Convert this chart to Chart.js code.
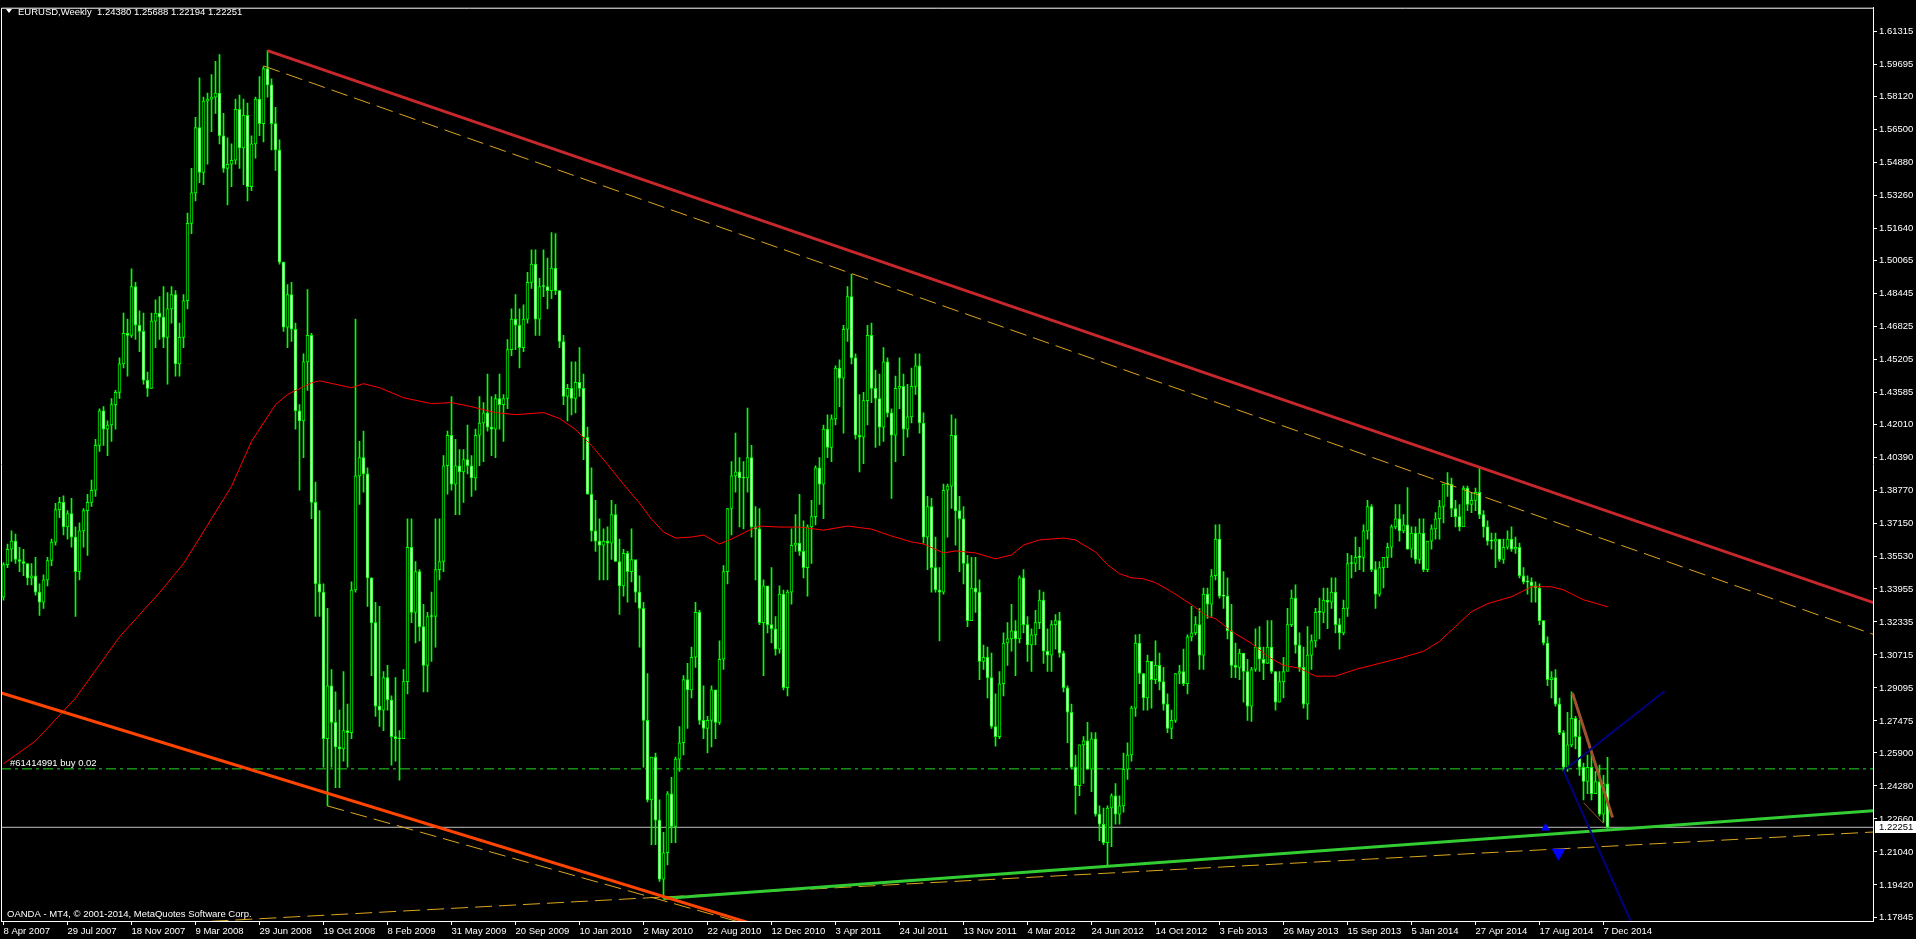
<!DOCTYPE html>
<html><head><meta charset="utf-8">
<script src="https://cdn.jsdelivr.net/npm/chart.js@4.4.1/dist/chart.umd.min.js"></script>
<style>html,body{margin:0;padding:0;background:#000;overflow:hidden}#wrap{position:relative;width:1916px;height:939px}canvas{display:block}</style>
</head><body><div id="wrap"><canvas id="c" width="1916" height="939"></canvas></div>
<script>
// ---- weekly EURUSD bars, 8 Apr 2007 .. 14 Dec 2014 (bar index 0..401) ----
const opens=[
1.3355,1.3515,1.3590,1.3630,1.3540,1.3530,1.3520,1.3450,1.3460,1.3380,
1.3330,1.3440,1.3535,1.3625,1.3785,1.3820,1.3700,1.3765,1.3650,1.3480,
1.3680,1.3780,1.3820,1.3880,1.4100,1.4270,1.4180,1.4200,1.4300,1.4360,
1.4500,1.4650,1.4640,1.4880,1.4690,1.4660,1.4420,1.4380,1.4710,1.4750,
1.4730,1.4630,1.4770,1.4840,1.4500,1.4630,1.4810,1.5190,1.5340,1.5660,
1.5440,1.5790,1.5800,1.5810,1.5830,1.5620,1.5460,1.5480,1.5500,1.5750,
1.5560,1.5720,1.5370,1.5580,1.5800,1.5680,1.5950,1.5870,1.5680,1.5550,
1.5000,1.4680,1.4840,1.4670,1.4270,1.4220,1.4510,1.4640,1.3820,1.3420,
1.3380,1.2660,1.2920,1.2740,1.2620,1.2610,1.2700,1.2690,1.3390,1.3950,
1.4040,1.3960,1.3450,1.3230,1.2820,1.2800,1.2960,1.2850,1.2670,1.2660,
1.2660,1.2940,1.3600,1.3280,1.3480,1.3210,1.3020,1.3260,1.3260,1.3490,
1.3530,1.4000,1.4150,1.3910,1.4000,1.3970,1.4030,1.4000,1.3940,1.4150,
1.4210,1.4260,1.4190,1.4180,1.4330,1.4300,1.4330,1.4570,1.4720,1.4690,
1.4580,1.4720,1.4900,1.4990,1.4720,1.4880,1.4880,1.4860,1.4970,1.4860,
1.4610,1.4340,1.4380,1.4330,1.4410,1.4380,1.4140,1.3860,1.3680,1.3630,
1.3610,1.3630,1.3620,1.3760,1.3530,1.3410,1.3570,1.3480,1.3540,1.3380,
1.3300,1.2750,1.2360,1.2570,1.2260,1.1970,1.2100,1.2390,1.2230,1.2560,
1.2640,1.2950,1.2900,1.3060,1.3280,1.2750,1.2710,1.2750,1.2900,1.2740,
1.3050,1.3480,1.3790,1.3950,1.3970,1.3940,1.3940,1.4040,1.3700,1.3690,
1.3230,1.3410,1.3220,1.3200,1.3100,1.3370,1.2910,1.3380,1.3610,1.3620,
1.3580,1.3500,1.3700,1.3750,1.3990,1.3910,1.4180,1.4090,1.4230,1.4480,
1.4430,1.4670,1.4830,1.4530,1.4150,1.4140,1.4320,1.4640,1.4380,1.4330,
1.4190,1.4510,1.4260,1.4150,1.4380,1.4390,1.4180,1.4240,1.4390,1.4490,
1.4210,1.3650,1.3800,1.3500,1.3390,1.3380,1.3880,1.3900,1.4150,1.3780,
1.3740,1.3520,1.3240,1.3400,1.3380,1.3040,1.3060,1.2960,1.2720,1.2670,
1.2930,1.3130,1.3150,1.3190,1.3150,1.3450,1.3220,1.3120,1.3170,1.3230,
1.3340,1.3090,1.3070,1.3220,1.3240,1.3080,1.2910,1.2790,1.2520,1.2430,
1.2630,1.2650,1.2510,1.2660,1.2290,1.2240,1.2150,1.2320,1.2380,1.2290,
1.2330,1.2510,1.2580,1.2810,1.3130,1.2980,1.2860,1.3040,1.2950,1.3020,
1.2940,1.2830,1.2710,1.2750,1.2980,1.2990,1.2930,1.3160,1.3180,1.3220,
1.3070,1.3370,1.3320,1.3460,1.3640,1.3360,1.3360,1.3190,1.3020,1.3010,
1.3080,1.2990,1.2820,1.3000,1.3110,1.3050,1.3030,1.3110,1.2990,1.2840,
1.2940,1.2990,1.3220,1.3350,1.3120,1.3010,1.2830,1.3070,1.3140,1.3280,
1.3280,1.3340,1.3330,1.3380,1.3220,1.3180,1.3300,1.3520,1.3520,1.3550,
1.3550,1.3680,1.3800,1.3490,1.3370,1.3500,1.3550,1.3600,1.3700,1.3740,
1.3680,1.3710,1.3590,1.3670,1.3540,1.3670,1.3490,1.3630,1.3690,1.3740,
1.3800,1.3910,1.3910,1.3790,1.3750,1.3700,1.3890,1.3810,1.3830,1.3870,
1.3760,1.3700,1.3630,1.3630,1.3640,1.3540,1.3600,1.3640,1.3590,1.3600,
1.3460,1.3430,1.3430,1.3410,1.3400,1.3240,1.3130,1.2950,1.2960,1.2830,
1.2690,1.2520,1.2630,1.2760,1.2670,1.2520,1.2450,1.2520,1.2390,1.2450,
1.2290,1.2438];
const highs=[
1.3525,1.3615,1.3680,1.3665,1.3600,1.3590,1.3520,1.3520,1.3550,1.3420,
1.3465,1.3550,1.3640,1.3815,1.3845,1.3852,1.3780,1.3840,1.3700,1.3720,
1.3790,1.3860,1.3930,1.4130,1.4280,1.4290,1.4220,1.4330,1.4370,1.4530,
1.4750,1.4720,1.4967,1.4900,1.4760,1.4750,1.4460,1.4750,1.4815,1.4830,
1.4880,1.4850,1.4880,1.4860,1.4700,1.4840,1.5240,1.5460,1.5710,1.5905,
1.5810,1.5830,1.5920,1.5985,1.6019,1.5730,1.5610,1.5580,1.5800,1.5820,
1.5800,1.5780,1.5620,1.5810,1.5910,1.5960,1.6038,1.5900,1.5760,1.5600,
1.5000,1.4890,1.4900,1.4700,1.4300,1.4550,1.4865,1.4650,1.3920,1.3780,
1.3420,1.3300,1.3000,1.2890,1.2800,1.2990,1.2830,1.3430,1.4720,1.4120,
1.4170,1.3990,1.3450,1.3330,1.3310,1.2990,1.3020,1.2870,1.2960,1.2700,
1.3000,1.3740,1.3740,1.3530,1.3490,1.3320,1.3280,1.3380,1.3740,1.3740,
1.4050,1.4170,1.4340,1.4130,1.4080,1.4080,1.4200,1.4050,1.4180,1.4340,
1.4310,1.4450,1.4340,1.4350,1.4450,1.4350,1.4620,1.4770,1.4840,1.4770,
1.4790,1.4950,1.5060,1.5060,1.4920,1.5060,1.5020,1.5145,1.5140,1.4860,
1.4640,1.4400,1.4510,1.4510,1.4580,1.4450,1.4190,1.3990,1.3830,1.3740,
1.3690,1.3700,1.3830,1.3810,1.3640,1.3590,1.3580,1.3690,1.3530,1.3460,
1.3330,1.2980,1.2570,1.2590,1.2360,1.2200,1.2400,1.2470,1.2570,1.2720,
1.2970,1.3030,1.3110,1.3330,1.3290,1.2920,1.2770,1.2920,1.2890,1.3140,
1.3510,1.3790,1.4020,1.4160,1.4040,1.4020,1.4283,1.4100,1.3800,1.3790,
1.3440,1.3390,1.3500,1.3260,1.3410,1.3390,1.3390,1.3690,1.3760,1.3860,
1.3730,1.3710,1.3830,1.4000,1.4040,1.4200,1.4250,1.4250,1.4490,1.4520,
1.4690,1.4880,1.4940,1.4550,1.4350,1.4360,1.4690,1.4700,1.4470,1.4450,
1.4580,1.4530,1.4280,1.4440,1.4530,1.4450,1.4400,1.4480,1.4550,1.4550,
1.4260,1.3850,1.3840,1.3650,1.3500,1.3910,1.3910,1.4250,1.4230,1.3850,
1.3800,1.3560,1.3550,1.3550,1.3440,1.3120,1.3110,1.3080,1.2880,1.2990,
1.3180,1.3230,1.3320,1.3240,1.3460,1.3490,1.3260,1.3200,1.3290,1.3390,
1.3380,1.3200,1.3240,1.3270,1.3280,1.3090,1.2920,1.2830,1.2580,1.2630,
1.2670,1.2740,1.2690,1.2690,1.2330,1.2320,1.2330,1.2390,1.2440,1.2380,
1.2590,1.2640,1.2820,1.3170,1.3172,1.2980,1.3070,1.3040,1.3140,1.3080,
1.3010,1.2880,1.2800,1.2980,1.3020,1.3100,1.3170,1.3310,1.3260,1.3300,
1.3400,1.3400,1.3490,1.3710,1.3711,1.3480,1.3450,1.3320,1.3130,1.3100,
1.3040,1.3050,1.3010,1.3200,1.3210,1.3110,1.3240,1.3240,1.2990,1.2990,
1.3060,1.3300,1.3390,1.3415,1.3180,1.3110,1.3210,1.3170,1.3300,1.3350,
1.3400,1.3400,1.3450,1.3450,1.3250,1.3340,1.3570,1.3560,1.3650,1.3600,
1.3710,1.3830,1.3810,1.3530,1.3530,1.3550,1.3620,1.3710,1.3810,1.3810,
1.3760,1.3893,1.3700,1.3700,1.3740,1.3740,1.3630,1.3710,1.3770,1.3830,
1.3910,1.3967,1.3940,1.3830,1.3810,1.3900,1.3900,1.3870,1.3890,1.3993,
1.3780,1.3730,1.3670,1.3670,1.3600,1.3640,1.3680,1.3700,1.3650,1.3620,
1.3500,1.3460,1.3450,1.3430,1.3420,1.3240,1.3160,1.2990,1.3000,1.2860,
1.2700,1.2790,1.2890,1.2770,1.2750,1.2540,1.2580,1.2600,1.2500,1.2530,
1.2480,1.25688];
const lows=[
1.3340,1.3500,1.3530,1.3520,1.3480,1.3460,1.3415,1.3415,1.3365,1.3265,
1.3300,1.3410,1.3510,1.3610,1.3745,1.3660,1.3640,1.3600,1.3260,1.3440,
1.3600,1.3560,1.3800,1.3850,1.4070,1.4100,1.4050,1.4120,1.4180,1.4330,
1.4480,1.4440,1.4630,1.4620,1.4560,1.4400,1.4340,1.4380,1.4580,1.4620,
1.4580,1.4400,1.4700,1.4440,1.4440,1.4580,1.4770,1.5140,1.5300,1.5390,
1.5380,1.5480,1.5640,1.5730,1.5580,1.5440,1.5280,1.5370,1.5480,1.5460,
1.5380,1.5300,1.5350,1.5510,1.5620,1.5590,1.5810,1.5550,1.5450,1.4990,
1.4660,1.4580,1.4610,1.4180,1.3880,1.4040,1.4370,1.3740,1.3260,1.3260,
1.2520,1.2330,1.2520,1.2420,1.2420,1.2550,1.2520,1.2660,1.3380,1.3810,
1.3870,1.3310,1.2970,1.2770,1.2720,1.2700,1.2800,1.2530,1.2550,1.2456,
1.2660,1.2880,1.3230,1.3130,1.3140,1.2890,1.2890,1.3040,1.3110,1.3440,
1.3480,1.3860,1.3880,1.3760,1.3760,1.3820,1.3960,1.3850,1.3880,1.4000,
1.4020,1.4170,1.4050,1.4040,1.4180,1.4120,1.4280,1.4540,1.4570,1.4480,
1.4560,1.4700,1.4870,1.4640,1.4640,1.4830,1.4770,1.4820,1.4840,1.4580,
1.4300,1.4220,1.4250,1.4260,1.4340,1.4030,1.3860,1.3630,1.3580,1.3440,
1.3440,1.3440,1.3540,1.3530,1.3270,1.3360,1.3330,1.3430,1.3330,1.3110,
1.2520,1.2350,1.2140,1.2140,1.1960,1.1876,1.2040,1.2150,1.2150,1.2500,
1.2580,1.2710,1.2860,1.3010,1.2730,1.2660,1.2590,1.2620,1.2660,1.2730,
1.3000,1.3420,1.3660,1.3870,1.3700,1.3690,1.3870,1.3650,1.3440,1.3220,
1.2970,1.3180,1.3130,1.3070,1.3080,1.2900,1.2870,1.3320,1.3580,1.3560,
1.3450,1.3360,1.3520,1.3710,1.3810,1.3740,1.4040,1.4020,1.4200,1.4290,
1.4160,1.4610,1.4500,1.4130,1.3970,1.4010,1.4200,1.4310,1.4090,1.4100,
1.4120,1.4240,1.3840,1.4020,1.4280,1.4050,1.4140,1.4210,1.4350,1.4160,
1.3620,1.3490,1.3380,1.3380,1.3140,1.3370,1.3650,1.3790,1.3610,1.3480,
1.3420,1.3210,1.3240,1.3280,1.2950,1.3000,1.2860,1.2710,1.2624,1.2660,
1.2870,1.3020,1.3090,1.2970,1.3130,1.3180,1.3040,1.2990,1.3120,1.3200,
1.3030,1.2990,1.2990,1.3100,1.3060,1.2890,1.2640,1.2510,1.2290,1.2380,
1.2440,1.2510,1.2400,1.2280,1.2160,1.2140,1.2042,1.2130,1.2240,1.2240,
1.2300,1.2460,1.2550,1.2770,1.2930,1.2800,1.2800,1.2810,1.2930,1.2900,
1.2800,1.2690,1.2660,1.2740,1.2930,1.2920,1.2880,1.3140,1.3170,1.3000,
1.3000,1.3250,1.3260,1.3440,1.3350,1.3300,1.3150,1.2960,1.2960,1.2950,
1.2840,1.2750,1.2745,1.2990,1.2990,1.2950,1.3030,1.2980,1.2800,1.2840,
1.2860,1.3000,1.3210,1.3080,1.2990,1.2810,1.2755,1.3000,1.3110,1.3150,
1.3230,1.3200,1.3300,1.3180,1.3100,1.3170,1.3260,1.3450,1.3480,1.3490,
1.3480,1.3640,1.3480,1.3300,1.3360,1.3400,1.3500,1.3550,1.3690,1.3630,
1.3670,1.3590,1.3550,1.3520,1.3520,1.3480,1.3480,1.3590,1.3640,1.3640,
1.3720,1.3850,1.3750,1.3700,1.3680,1.3710,1.3780,1.3770,1.3780,1.3740,
1.3650,1.3610,1.3590,1.3500,1.3530,1.3520,1.3590,1.3580,1.3570,1.3450,
1.3420,1.3370,1.3330,1.3330,1.3220,1.3120,1.2920,1.2860,1.2820,1.2680,
1.2500,1.2500,1.2620,1.2610,1.2480,1.2360,1.2390,1.2360,1.2410,1.2280,
1.2250,1.22194];
const closes=[
1.3515,1.3590,1.3630,1.3540,1.3530,1.3520,1.3450,1.3460,1.3380,1.3330,
1.3440,1.3535,1.3625,1.3785,1.3820,1.3700,1.3765,1.3650,1.3480,1.3680,
1.3780,1.3820,1.3880,1.4100,1.4270,1.4180,1.4200,1.4300,1.4360,1.4500,
1.4650,1.4640,1.4880,1.4690,1.4660,1.4420,1.4380,1.4710,1.4750,1.4730,
1.4630,1.4770,1.4840,1.4500,1.4630,1.4810,1.5190,1.5340,1.5660,1.5440,
1.5790,1.5800,1.5810,1.5830,1.5620,1.5460,1.5480,1.5500,1.5750,1.5560,
1.5720,1.5370,1.5580,1.5800,1.5680,1.5950,1.5870,1.5680,1.5550,1.5000,
1.4680,1.4840,1.4670,1.4270,1.4220,1.4510,1.4640,1.3820,1.3420,1.3380,
1.2660,1.2920,1.2740,1.2620,1.2610,1.2700,1.2690,1.3390,1.3950,1.4040,
1.3960,1.3450,1.3230,1.2820,1.2800,1.2960,1.2850,1.2670,1.2660,1.2660,
1.2940,1.3600,1.3280,1.3480,1.3210,1.3020,1.3260,1.3260,1.3490,1.3530,
1.4000,1.4150,1.3910,1.4000,1.3970,1.4030,1.4000,1.3940,1.4150,1.4210,
1.4260,1.4190,1.4180,1.4330,1.4300,1.4330,1.4570,1.4720,1.4690,1.4580,
1.4720,1.4900,1.4990,1.4720,1.4880,1.4880,1.4860,1.4970,1.4860,1.4610,
1.4340,1.4380,1.4330,1.4410,1.4380,1.4140,1.3860,1.3680,1.3630,1.3610,
1.3630,1.3620,1.3760,1.3530,1.3410,1.3570,1.3480,1.3540,1.3380,1.3300,
1.2750,1.2360,1.2570,1.2260,1.1970,1.2100,1.2390,1.2230,1.2560,1.2640,
1.2950,1.2900,1.3060,1.3280,1.2750,1.2710,1.2750,1.2900,1.2740,1.3050,
1.3480,1.3790,1.3950,1.3970,1.3940,1.3940,1.4040,1.3700,1.3690,1.3230,
1.3410,1.3220,1.3200,1.3100,1.3370,1.2910,1.3380,1.3610,1.3620,1.3580,
1.3500,1.3700,1.3750,1.3990,1.3910,1.4180,1.4090,1.4230,1.4480,1.4430,
1.4670,1.4830,1.4530,1.4150,1.4140,1.4320,1.4640,1.4380,1.4330,1.4190,
1.4510,1.4260,1.4150,1.4380,1.4390,1.4180,1.4240,1.4390,1.4490,1.4210,
1.3650,1.3800,1.3500,1.3390,1.3380,1.3880,1.3900,1.4150,1.3780,1.3740,
1.3520,1.3240,1.3400,1.3380,1.3040,1.3060,1.2960,1.2720,1.2670,1.2930,
1.3130,1.3150,1.3190,1.3150,1.3450,1.3220,1.3120,1.3170,1.3230,1.3340,
1.3090,1.3070,1.3220,1.3240,1.3080,1.2910,1.2790,1.2520,1.2430,1.2630,
1.2650,1.2510,1.2660,1.2290,1.2240,1.2150,1.2320,1.2380,1.2290,1.2330,
1.2510,1.2580,1.2810,1.3130,1.2980,1.2860,1.3040,1.2950,1.3020,1.2940,
1.2830,1.2710,1.2750,1.2980,1.2990,1.2930,1.3160,1.3180,1.3220,1.3070,
1.3370,1.3320,1.3460,1.3640,1.3360,1.3360,1.3190,1.3020,1.3010,1.3080,
1.2990,1.2820,1.3000,1.3110,1.3050,1.3030,1.3110,1.2990,1.2840,1.2940,
1.2990,1.3220,1.3350,1.3120,1.3010,1.2830,1.3070,1.3140,1.3280,1.3280,
1.3340,1.3330,1.3380,1.3220,1.3180,1.3300,1.3520,1.3520,1.3550,1.3550,
1.3680,1.3800,1.3490,1.3370,1.3500,1.3550,1.3600,1.3700,1.3740,1.3680,
1.3710,1.3590,1.3670,1.3540,1.3670,1.3490,1.3630,1.3690,1.3740,1.3800,
1.3910,1.3910,1.3790,1.3750,1.3700,1.3890,1.3810,1.3830,1.3870,1.3760,
1.3700,1.3630,1.3630,1.3640,1.3540,1.3600,1.3640,1.3590,1.3600,1.3460,
1.3430,1.3430,1.3410,1.3400,1.3240,1.3130,1.2950,1.2960,1.2830,1.2690,
1.2520,1.2630,1.2760,1.2670,1.2520,1.2450,1.2520,1.2390,1.2450,1.2290,
1.2440,1.22251];

// ---- moving average (red) read at sample bars ----
const maBars=[0,8,18,29,39,45,49,57,62,68,71,77,79,87,90,94,100,107,112,117,123,128,135,139,143,147,151,155,159,162,165,168,172,175,179,182,187,189,194,199,205,211,217,222,227,230,235,238,243,248,252,255,259,265,268,271,273,276,279,282,285,288,292,297,301,303,307,312,316,320,324,328,333,338,342,349,355,359,363,367,371,377,382,387,390,395,401];
const maValues=[1.2537,1.2649,1.2859,1.3160,1.3377,1.3520,1.3645,1.3899,1.4120,1.4300,1.4350,1.4407,1.4417,1.4383,1.4403,1.4383,1.4334,1.4305,1.4310,1.4290,1.4261,1.4251,1.4261,1.4232,1.4178,1.4100,1.4007,1.3909,1.3817,1.3738,1.3675,1.3645,1.3650,1.3660,1.3616,1.3640,1.3689,1.3704,1.3699,1.3699,1.3684,1.3704,1.3689,1.3655,1.3626,1.3616,1.3572,1.3582,1.3572,1.3543,1.3562,1.3611,1.3636,1.3645,1.3636,1.3600,1.3577,1.3514,1.3470,1.3450,1.3445,1.3426,1.3382,1.3318,1.3260,1.3250,1.3187,1.3128,1.3065,1.3020,1.3006,1.2967,1.2967,1.3000,1.3020,1.3055,1.3089,1.3138,1.3211,1.3284,1.3323,1.3357,1.3406,1.3406,1.3391,1.3342,1.3308];

// ---- drawn objects (bar index, price) ----
const resistBars=[66,467.5],      resistPrices=[1.6038,1.3328];
const upperDashBars=[65,467.5],   upperDashPrices=[1.5963,1.3172];
const orangeBars=[-0.75,200],     orangePrices=[1.2886,1.1674];
const orangeDashBars=[81,200],    orangeDashPrices=[1.2330,1.1671];
const supportBars=[165,467.5],    supportPrices=[1.1876,1.2307];
const lowDashBars=[40,467.5],     lowDashPrices=[1.1751,1.2202];
const blueUpBars=[390,415.25],    blueUpPrices=[1.2503,1.2893];
const blueDownBars=[390,409],     blueDownPrices=[1.2503,1.1668];
const brownBars=[392.25,402.25],  brownPrices=[1.2884,1.2273];
const brownThinBars=[395,400],    brownThinPrices=[1.2346,1.2244];
const arrowDownBars=[388.75],     arrowDownPrices=[1.2100];
const arrowUpBars=[385.5],        arrowUpPrices=[1.2222];
const orderPrice=1.2512, bidPrice=1.22251;

// ---- axis labels ----
const dateLabelBars=[0,16,32,48,64,80,96,112,128,144,160,176,192,208,224,240,256,272,288,304,320,336,352,368,384,400];
const dateLabels=['8 Apr 2007','29 Jul 2007','18 Nov 2007','9 Mar 2008','29 Jun 2008','19 Oct 2008','8 Feb 2009','31 May 2009','20 Sep 2009','10 Jan 2010','2 May 2010','22 Aug 2010','12 Dec 2010','3 Apr 2011','24 Jul 2011','13 Nov 2011','4 Mar 2012','24 Jun 2012','14 Oct 2012','3 Feb 2013','26 May 2013','15 Sep 2013','5 Jan 2014','27 Apr 2014','17 Aug 2014','7 Dec 2014'];
const priceTicks=[1.61315,1.59695,1.58120,1.56500,1.54880,1.53260,1.51640,1.50065,1.48445,1.46825,1.45205,1.43585,1.42010,1.40390,1.38770,1.37150,1.35530,1.33955,1.32335,1.30715,1.29095,1.27475,1.25900,1.24280,1.22660,1.21040,1.19420,1.17845];
const headerText='EURUSD,Weekly  1.24380 1.25688 1.22194 1.22251';
const orderText='#61414991 buy 0.02';
const copyrightText='OANDA - MT4, \u00a9 2001-2014, MetaQuotes Software Corp.';

// ---- build datasets ----
const pts=(bx,py)=>bx.map((b,i)=>({x:b,y:py[i]}));
const wickData=opens.map((o,i)=>({x:i,y:[lows[i],highs[i]]}));
const bodyData=opens.map((o,i)=>({x:i,y:[Math.min(o,closes[i]),Math.max(o,closes[i])]}));
const bodyFill=opens.map((o,i)=>closes[i]>o?'#000000':'#ffffff');
const line=(data,color,width,dash,order)=>({type:'line',data,borderColor:color,borderWidth:width,borderDash:dash||[],pointRadius:0,fill:false,tension:0,order});
const FONT='"Liberation Sans", Arial, sans-serif';

const overlay={
  id:'overlay',
  afterDraw(chart){
    const {ctx,chartArea:a,scales:{y}}=chart;
    ctx.save();
    ctx.strokeStyle='#ffffff';ctx.lineWidth=1;
    ctx.beginPath();ctx.moveTo(a.left+0.5,a.bottom);ctx.lineTo(a.left+0.5,a.top+0.5);ctx.lineTo(a.right+0.5,a.top+0.5);ctx.stroke();
    ctx.fillStyle='#ffffff';
    ctx.beginPath();ctx.moveTo(6,9);ctx.lineTo(12,9);ctx.lineTo(9,13);ctx.closePath();ctx.fill();
    ctx.font='9.5px '+FONT;ctx.textBaseline='alphabetic';ctx.textAlign='left';
    ctx.fillText(headerText,18,15);
    const yo=y.getPixelForValue(orderPrice);
    ctx.fillText(orderText,10,yo-3);
    ctx.fillText(copyrightText,7,917);
    const yb=Math.round(y.getPixelForValue(bidPrice));
    ctx.fillStyle='#ffffff';ctx.fillRect(a.right+2,yb-6,42,12);
    ctx.fillStyle='#000000';ctx.textBaseline='middle';
    ctx.fillText(bidPrice.toFixed(5),a.right+6,yb);
    ctx.restore();
  }
};

new Chart(document.getElementById('c'),{
  type:'bar',
  data:{datasets:[
    line(pts([-0.625,467.375],[bidPrice,bidPrice]),'#c0c0c0',1,[],20),
    line(pts([-0.625,467.375],[orderPrice,orderPrice]),'#22dd22',1,[10,4,3,4],19),
    {type:'bar',data:wickData,backgroundColor:'#00ff00',borderWidth:0,barThickness:1,grouped:false,order:12},
    {type:'bar',data:bodyData,backgroundColor:bodyFill,borderColor:'#00ff00',borderWidth:1,borderSkipped:false,barThickness:3,minBarLength:1,grouped:false,order:11},
    line(pts(maBars,maValues),'#ff0000',1,[],10),
    line(pts(upperDashBars,upperDashPrices),'#daa520',1,[17,7],9),
    line(pts(lowDashBars,lowDashPrices),'#daa520',1,[17,7],9),
    line(pts(orangeDashBars,orangeDashPrices),'#daa520',1,[17,7],9),
    line(pts(resistBars,resistPrices),'#c8282d',3,[],8),
    line(pts(orangeBars,orangePrices),'#ff4500',3,[],8),
    line(pts(supportBars,supportPrices),'#32cd32',3,[],8),
    line(pts(brownThinBars,brownThinPrices),'#a0522d',1,[],7),
    line(pts(brownBars,brownPrices),'#a0522d',3,[],7),
    line(pts(blueUpBars,blueUpPrices),'#000080',2,[],6),
    line(pts(blueDownBars,blueDownPrices),'#000080',2,[],6),
    {type:'line',data:pts(arrowDownBars,arrowDownPrices),showLine:false,pointStyle:'triangle',rotation:180,pointRadius:8,backgroundColor:'#0000ff',borderColor:'#0000ff',borderWidth:0,order:5},
    {type:'line',data:pts(arrowUpBars,arrowUpPrices),showLine:false,pointStyle:'triangle',rotation:0,pointRadius:5,backgroundColor:'#0000ff',borderColor:'#0000ff',borderWidth:0,order:5}
  ]},
  options:{
    responsive:false,animation:false,events:[],devicePixelRatio:1,
    layout:{autoPadding:false,padding:{left:1,top:3,right:0,bottom:0}},
    plugins:{legend:{display:false},tooltip:{enabled:false},title:{display:false}},
    scales:{
      x:{type:'linear',position:'bottom',min:-0.625,max:467.375,offset:false,
        grid:{display:true,drawOnChartArea:false,drawTicks:true,tickLength:4,color:'#ffffff',tickColor:'#ffffff',offset:false},
        border:{display:true,color:'#ffffff',width:1},
        afterBuildTicks:(s)=>{s.ticks=dateLabelBars.map(v=>({value:v}));},
        ticks:{autoSkip:false,maxRotation:0,minRotation:0,align:'start',padding:1,color:'#ffffff',font:{family:FONT,size:9.5},
          callback:(v)=>{const k=dateLabelBars.indexOf(v);return k>=0?dateLabels[k]:'';}},
        afterFit:(s)=>{s.height=18;}
      },
      y:{type:'linear',position:'right',min:1.176515,max:1.624872,
        grid:{display:true,drawOnChartArea:false,drawTicks:true,tickLength:4,color:'#ffffff',tickColor:'#ffffff'},
        border:{display:true,color:'#ffffff',width:1},
        afterBuildTicks:(s)=>{s.ticks=priceTicks.map(v=>({value:v}));},
        ticks:{padding:2,color:'#ffffff',font:{family:FONT,size:9.5},callback:(v)=>Number(v).toFixed(5)},
        afterFit:(s)=>{s.width=43;}
      }
    }
  },
  plugins:[overlay]
});
</script></body></html>
